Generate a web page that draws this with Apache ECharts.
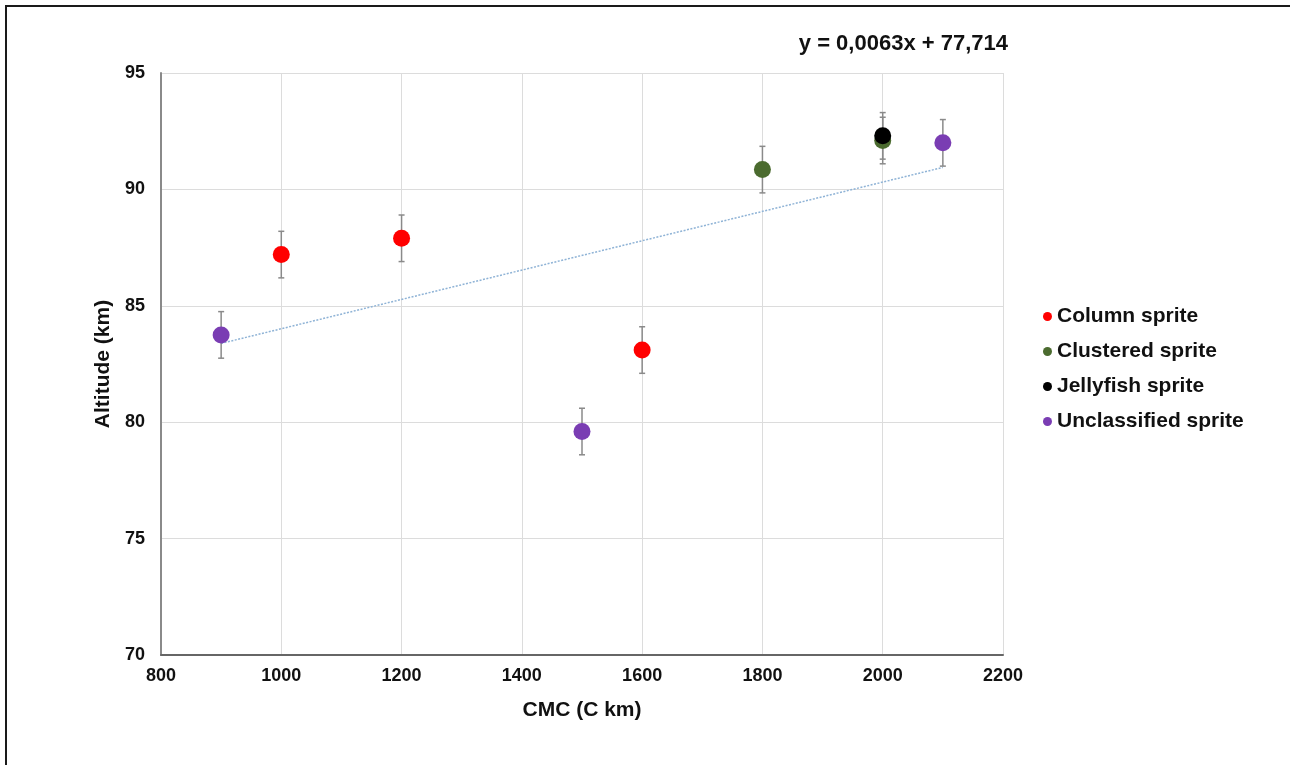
<!DOCTYPE html>
<html>
<head>
<meta charset="utf-8">
<script src="https://cdn.jsdelivr.net/npm/echarts@6/dist/echarts.min.js"></script>
<style>
  html, body { margin: 0; padding: 0; background: #fff; }
  #chart { width: 1290px; height: 765px; }
</style>
</head>
<body>
<div id="chart"></div>
<script>
// points per sprite type: [CMC, altitude]
var columnPts = [[1000, 87.2], [1200, 87.9], [1600, 83.1]]
var clusteredPts = [[1800, 90.85], [2000, 92.1]]
var jellyfishPts = [[2000, 92.3]]
var unclassifiedPts = [[900, 83.75], [1500, 79.6], [2100, 92.0]]
// error bar half-width (km) per point, same order as above
var columnErr = [1, 1, 1]
var clusteredErr = [1, 1]
var jellyfishErr = [1]
var unclassifiedErr = [1, 1, 1]
// trendline y = slope*x + intercept, drawn over the data range
var slope = 0.0063
var intercept = 77.714
var trendX = [900, 2100]
var names = ['Column sprite', 'Clustered sprite', 'Jellyfish sprite', 'Unclassified sprite']
var colors = ['#ff0000', '#4b6b2f', '#000000', '#7a3db3']

var font = 'Liberation Sans'

function errData(pts, err) {
  return pts.map(function (p, i) { return [p[0], p[1] - err[i], p[1] + err[i]] })
}

var allErr = []
  .concat(errData(columnPts, columnErr))
  .concat(errData(clusteredPts, clusteredErr))
  .concat(errData(jellyfishPts, jellyfishErr))
  .concat(errData(unclassifiedPts, unclassifiedErr))

var chart = echarts.init(document.getElementById('chart'))

var option = {
  animation: false,
  backgroundColor: '#fff',
  grid: { left: 161, right: 287, top: 73, bottom: 110 },
  graphic: [
    {
      type: 'rect',
      shape: { x: 6, y: 6, width: 1400, height: 900 },
      style: { fill: 'none', stroke: '#1a1a1a', lineWidth: 2 },
      silent: true
    },
    {
      type: 'text',
      right: 282,
      top: 33,
      style: {
        text: 'y = 0,0063x + 77,714',
        fill: '#111',
        font: 'bold 22px "' + font + '"'
      }
    }
  ],
  legend: {
    data: names,
    orient: 'vertical',
    left: 1038,
    top: 301,
    itemGap: 14,
    itemWidth: 9,
    itemHeight: 9,
    icon: 'circle',
    textStyle: { color: '#111', fontSize: 21, fontWeight: 'bold', fontFamily: font, padding: [5, 0, 0, 0] }
  },
  xAxis: {
    type: 'value',
    min: 800,
    max: 2200,
    interval: 200,
    name: 'CMC (C km)',
    nameLocation: 'middle',
    nameGap: 45,
    nameTextStyle: { color: '#111', fontSize: 21, fontWeight: 'bold', fontFamily: font },
    axisLine: { show: true, onZero: false, lineStyle: { color: '#666', width: 2 } },
    axisTick: { show: false },
    axisLabel: { color: '#111', fontSize: 18, fontWeight: 'bold', fontFamily: font, margin: 12, formatter: function (v) { return String(v) } },
    splitLine: { show: true, lineStyle: { color: '#dcdcdc', width: 1 } }
  },
  yAxis: {
    type: 'value',
    min: 70,
    max: 95,
    interval: 5,
    name: 'Altitude (km)',
    nameLocation: 'middle',
    nameGap: 42,
    nameTextStyle: { color: '#111', fontSize: 21, fontWeight: 'bold', fontFamily: font },
    axisLine: { show: true, onZero: false, lineStyle: { color: '#8a8a8a', width: 2 } },
    axisTick: { show: false },
    axisLabel: { color: '#111', fontSize: 18, fontWeight: 'bold', fontFamily: font, margin: 16 },
    splitLine: { show: true, lineStyle: { color: '#dcdcdc', width: 1 } }
  },
  series: [
    {
      name: 'trend',
      type: 'line',
      data: trendX.map(function (x) { return [x, slope * x + intercept] }),
      symbol: 'none',
      silent: true,
      lineStyle: { color: '#8fb3d6', width: 1.5, type: [2, 1.5] },
      z: 2
    },
    {
      name: 'errors',
      type: 'custom',
      data: allErr,
      silent: true,
      z: 3,
      renderItem: function (params, api) {
        var x = api.value(0)
        var lo = api.coord([x, api.value(1)])
        var hi = api.coord([x, api.value(2)])
        var cap = 3
        var st = { stroke: '#8a8a8a', lineWidth: 1.5 }
        return {
          type: 'group',
          children: [
            { type: 'line', shape: { x1: lo[0], y1: lo[1], x2: hi[0], y2: hi[1] }, style: st },
            { type: 'line', shape: { x1: lo[0] - cap, y1: lo[1], x2: lo[0] + cap, y2: lo[1] }, style: st },
            { type: 'line', shape: { x1: hi[0] - cap, y1: hi[1], x2: hi[0] + cap, y2: hi[1] }, style: st }
          ]
        }
      }
    },
    { name: names[0], type: 'scatter', data: columnPts, symbolSize: 17, itemStyle: { color: colors[0], opacity: 1 }, z: 5 },
    { name: names[1], type: 'scatter', data: clusteredPts, symbolSize: 17, itemStyle: { color: colors[1], opacity: 1 }, z: 5 },
    { name: names[2], type: 'scatter', data: jellyfishPts, symbolSize: 17, itemStyle: { color: colors[2], opacity: 1 }, z: 6 },
    { name: names[3], type: 'scatter', data: unclassifiedPts, symbolSize: 17, itemStyle: { color: colors[3], opacity: 1 }, z: 5 }
  ]
}

chart.setOption(option)
window.onresize = function () { chart.resize() }
</script>
</body>
</html>
